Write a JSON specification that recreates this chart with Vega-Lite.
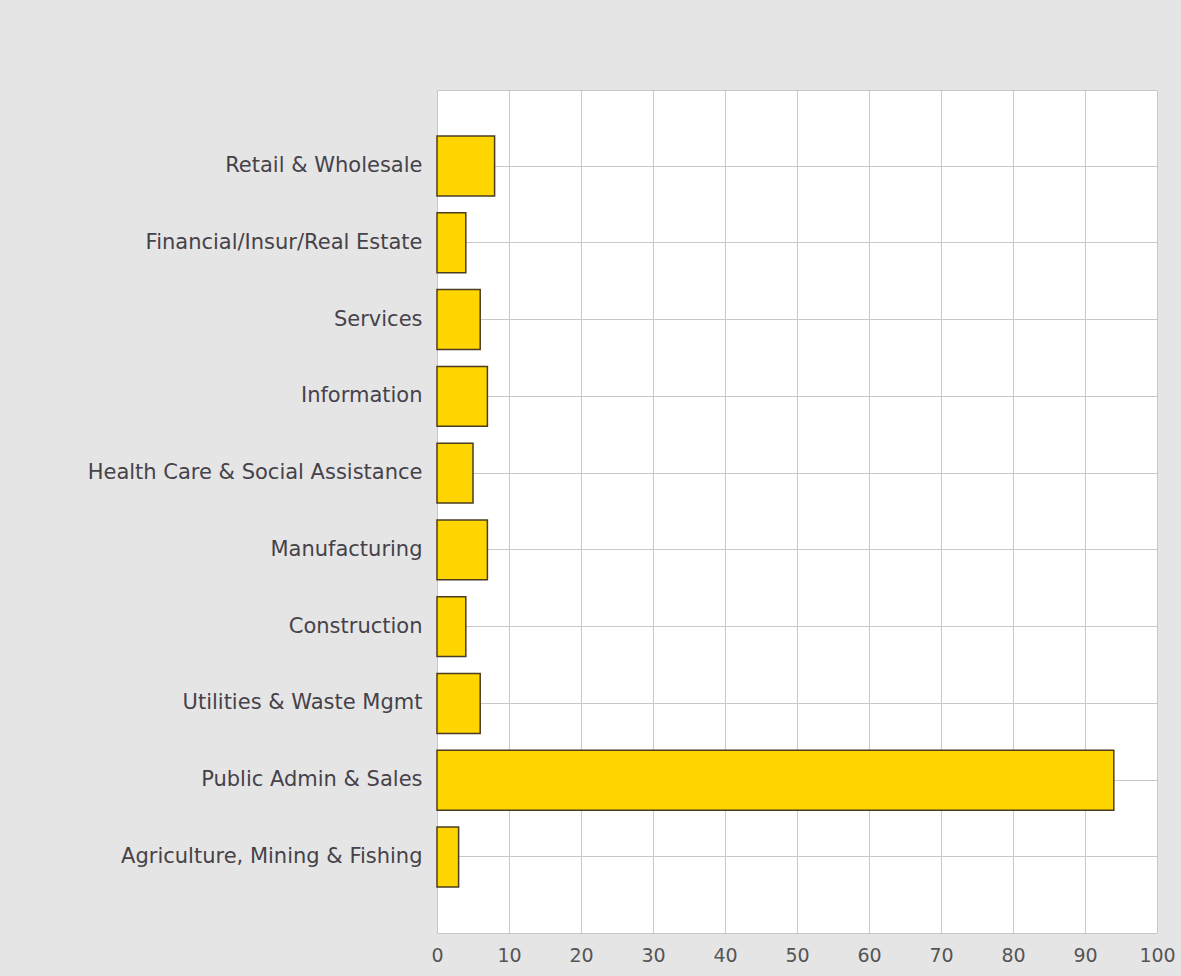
{
  "$schema": "https://vega.github.io/schema/vega-lite/v6.json",
  "autosize": "none",
  "padding": {"left": 437, "top": 90, "right": 24, "bottom": 43},
  "width": 720,
  "height": 843,
  "background": "#e5e5e5",
  "data": {
    "values": [
      {"sector": "Retail & Wholesale", "value": 8},
      {"sector": "Financial/Insur/Real Estate", "value": 4},
      {"sector": "Services", "value": 6},
      {"sector": "Information", "value": 7},
      {"sector": "Health Care & Social Assistance", "value": 5},
      {"sector": "Manufacturing", "value": 7},
      {"sector": "Construction", "value": 4},
      {"sector": "Utilities & Waste Mgmt", "value": 6},
      {"sector": "Public Admin & Sales", "value": 94},
      {"sector": "Agriculture, Mining & Fishing", "value": 3}
    ]
  },
  "mark": {"type": "bar", "fill": "#ffd500", "stroke": "#4a3c20", "strokeWidth": 1.5},
  "encoding": {
    "y": {
      "field": "sector",
      "type": "nominal",
      "sort": null,
      "scale": {"paddingInner": 0.22, "paddingOuter": 0.6},
      "axis": {
        "title": null,
        "grid": true,
        "bandPosition": 0.5,
        "gridColor": "#c8c8c8",
        "gridWidth": 1,
        "domain": false,
        "ticks": false,
        "labelPadding": 15,
        "labelFont": "DejaVu Sans",
        "labelFontSize": 21,
        "labelColor": "#45424a",
        "labelLimit": 420
      }
    },
    "x": {
      "field": "value",
      "type": "quantitative",
      "scale": {"domain": [0, 100], "nice": false},
      "axis": {
        "title": null,
        "values": [0, 10, 20, 30, 40, 50, 60, 70, 80, 90, 100],
        "grid": true,
        "gridColor": "#c8c8c8",
        "gridWidth": 1,
        "domain": false,
        "ticks": false,
        "labelPadding": 13,
        "labelFont": "DejaVu Sans",
        "labelFontSize": 19,
        "labelColor": "#555555",
        "labelFlush": false
      }
    }
  },
  "config": {
    "view": {"fill": "#ffffff", "stroke": "#c8c8c8", "strokeWidth": 1}
  }
}
